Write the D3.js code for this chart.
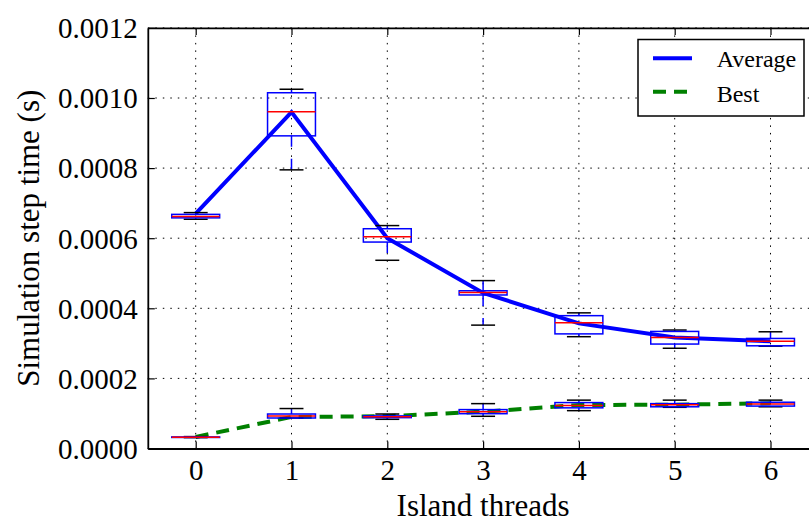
<!DOCTYPE html>
<html>
<head>
<meta charset="utf-8">
<script src="https://cdn.jsdelivr.net/npm/d3@7"></script>
<style>
  body { margin: 0; background: #fff; }
</style>
</head>
<body>
<svg id="chart"></svg>
<script>
// Island threads on the x axis
const threads = [0, 1, 2, 3, 4, 5, 6];

// Box stats per thread count: [whisker low, q1, median, q3, whisker high]
const averageBoxes = [
  [0.000654, 0.000658, 0.000662, 0.000668, 0.000673],
  [0.000795, 0.000892, 0.000961, 0.001015, 0.001025],
  [0.000537, 0.000589, 0.000604, 0.000627, 0.000636],
  [0.000352, 0.000438, 0.000445, 0.000450, 0.000479],
  [0.000319, 0.000327, 0.000359, 0.000379, 0.000387],
  [0.000286, 0.000298, 0.000317, 0.000334, 0.000338],
  [0.000292, 0.000293, 0.000306, 0.000314, 0.000333]
];
const bestBoxes = [
  [0.0000310, 0.0000315, 0.0000320, 0.0000330, 0.0000340],
  [0.0000870, 0.0000870, 0.0000927, 0.0000984, 0.0001140],
  [0.0000833, 0.0000880, 0.0000907, 0.0000930, 0.0000984],
  [0.0000919, 0.0000993, 0.0001050, 0.0001110, 0.0001280],
  [0.0001080, 0.0001160, 0.0001230, 0.0001310, 0.0001380],
  [0.0001175, 0.0001190, 0.0001250, 0.0001280, 0.0001380],
  [0.0001190, 0.0001210, 0.0001270, 0.0001320, 0.0001380]
];

// Mean lines
const averageLine = [0.000670, 0.000960, 0.000600, 0.000444, 0.000357, 0.000317, 0.000306];
const bestLine = [0.000033, 0.000090, 0.000092, 0.000105, 0.000124, 0.000125, 0.000129];

const yTicks = [0, 0.0002, 0.0004, 0.0006, 0.0008, 0.0010, 0.0012];
const legendItems = ["Average", "Best"];

const FONT = "Liberation Serif, Tinos, Times New Roman, Times, DejaVu Serif, Noto Serif, serif";
const width = 809, height = 523;
const svg = d3.select("#chart").attr("width", width).attr("height", height)
  .attr("font-family", FONT);

const x = d3.scaleLinear().domain([-0.5, 6.5]).range([147.8, 818.4]);
const y = d3.scaleLinear().domain([0, 0.0012]).range([448.5, 27.9]);

// Grid
const grid = svg.append("g");
grid.selectAll(".gx").data(threads).enter().append("line")
  .attr("x1", d => x(d)).attr("x2", d => x(d))
  .attr("y1", y(0.0012)).attr("y2", y(0))
  .attr("stroke", "#000").attr("stroke-width", 1).attr("stroke-dasharray", "1.5,6");
grid.selectAll(".gy").data(yTicks).enter().append("line")
  .attr("x1", x(-0.5)).attr("x2", x(6.5))
  .attr("y1", d => y(d)).attr("y2", d => y(d))
  .attr("stroke", "#000").attr("stroke-width", 1).attr("stroke-dasharray", "1.5,6");

// Lines go under the boxes
const line = d3.line().x((d, i) => x(threads[i])).y(d => y(d));
svg.append("path").datum(averageLine).attr("d", line)
  .attr("fill", "none").attr("stroke", "#0000ff").attr("stroke-width", 4);
svg.append("path").datum(bestLine).attr("d", line)
  .attr("fill", "none").attr("stroke", "#008000").attr("stroke-width", 4)
  .attr("stroke-dasharray", "13,8");

function drawBoxes(stats) {
  const boxW = x(0.25) - x(0);
  const capW = x(0.125) - x(0);
  const g = svg.append("g");
  stats.forEach((s, i) => {
    const cx = x(threads[i]);
    const [lo, q1, med, q3, hi] = s;
    // whiskers
    g.append("line").attr("x1", cx).attr("x2", cx).attr("y1", y(q1)).attr("y2", y(lo))
      .attr("stroke", "#0000ff").attr("stroke-width", 1.5).attr("stroke-dasharray", "11,12");
    g.append("line").attr("x1", cx).attr("x2", cx).attr("y1", y(q3)).attr("y2", y(hi))
      .attr("stroke", "#0000ff").attr("stroke-width", 1.5).attr("stroke-dasharray", "11,12");
    // caps
    [lo, hi].forEach(v => {
      g.append("line").attr("x1", cx - capW).attr("x2", cx + capW).attr("y1", y(v)).attr("y2", y(v))
        .attr("stroke", "#000").attr("stroke-width", 1.5);
    });
    g.append("rect")
      .attr("x", cx - boxW).attr("width", boxW * 2)
      .attr("y", y(q3)).attr("height", Math.max(0, y(q1) - y(q3)))
      .attr("fill", "none").attr("stroke", "#0000ff").attr("stroke-width", 1.5);
    g.append("line").attr("x1", cx - boxW).attr("x2", cx + boxW).attr("y1", y(med)).attr("y2", y(med))
      .attr("stroke", "#ff0000").attr("stroke-width", 1.5);
  });
}
drawBoxes(averageBoxes);
drawBoxes(bestBoxes);

// Axes (ticks pointing inward)
const xAxis = svg.append("g").attr("transform", `translate(0,${y(0)})`)
  .call(d3.axisBottom(x).tickValues(threads).tickFormat(d3.format("d")).tickSizeInner(-7).tickSizeOuter(0).tickPadding(14));
const xTop = svg.append("g").attr("transform", `translate(0,${y(0.0012)})`)
  .call(d3.axisTop(x).tickValues(threads).tickFormat("").tickSizeInner(-7).tickSizeOuter(0));
const yAxis = svg.append("g").attr("transform", `translate(${x(-0.5)},0)`)
  .call(d3.axisLeft(y).tickValues(yTicks).tickFormat(d3.format(".4f")).tickSizeInner(-7).tickSizeOuter(0).tickPadding(10));

[xAxis, xTop, yAxis].forEach(a => {
  a.attr("font-family", FONT).attr("font-size", 29);
  a.select(".domain").attr("stroke", "#000").attr("stroke-width", 1.8);
  a.selectAll(".tick line").attr("stroke", "#000").attr("stroke-width", 1.2);
  a.selectAll("text").attr("fill", "#000");
});
xAxis.selectAll("text").attr("dy", null).attr("y", 31);
yAxis.selectAll("text").attr("dy", "0.34em");

// Axis labels
svg.append("text")
  .attr("x", x(3)).attr("y", 516)
  .attr("text-anchor", "middle").attr("font-size", 31)
  .text("Island threads");
svg.append("text")
  .attr("transform", `translate(38.5,${y(0.0006)}) rotate(-90)`)
  .attr("text-anchor", "middle").attr("font-size", 31)
  .text("Simulation step time (s)");

// Legend
const legend = svg.append("g");
legend.append("rect").attr("x", 638).attr("y", 39.5).attr("width", 166).attr("height", 76.5)
  .attr("fill", "#fff").attr("stroke", "#000").attr("stroke-width", 1.5);
const legendY = [58.3, 91.7];
const legendBase = [66.7, 101.5];
legendItems.forEach((name, i) => {
  legend.append("line").attr("x1", 653).attr("x2", 692).attr("y1", legendY[i]).attr("y2", legendY[i])
    .attr("stroke", i === 0 ? "#0000ff" : "#008000").attr("stroke-width", 4)
    .attr("stroke-dasharray", i === 0 ? null : "13,8");
  legend.append("text").attr("x", 716.7).attr("y", legendBase[i])
    .attr("font-size", 24).text(name);
});
</script>
</body>
</html>
